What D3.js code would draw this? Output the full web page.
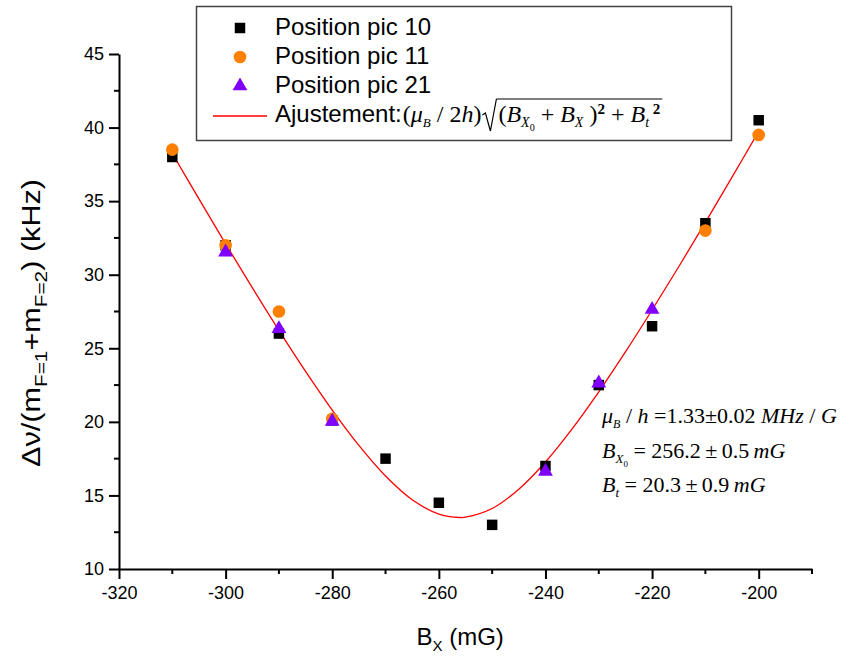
<!DOCTYPE html>
<html>
<head>
<meta charset="utf-8">
<script src="https://cdn.jsdelivr.net/npm/d3@7/dist/d3.min.js"></script>
<style>
  html, body { margin: 0; padding: 0; background: #fff; }
  svg { display: block; }
</style>
</head>
<body>
<svg id="chart" width="844" height="657"></svg>
<script>
// ---------- data ----------
const xTicks = [-320, -300, -280, -260, -240, -220, -200];
const yTicks = [10, 15, 20, 25, 30, 35, 40, 45];

const pic10X = [-310, -300, -290, -280, -270, -260, -250, -240, -230, -220, -210, -200];
const pic10Y = [38.0, 32.0, 26.0, 20.1, 17.5, 14.5, 13.0, 17.0, 22.5, 26.5, 33.5, 40.5];

const pic11X = [-310, -300, -290, -280, -210, -200];
const pic11Y = [38.5, 32.0, 27.5, 20.2, 33.0, 39.5];

const pic21X = [-300, -290, -280, -240, -230, -220];
const pic21Y = [31.6, 26.4, 20.1, 16.7, 22.7, 27.7];

// fitted curve, read every 5 mG
const fitX = [-310, -305, -300, -295, -290, -285, -280, -275, -270, -265, -260, -256,
              -255, -250, -245, -240, -235, -230, -225, -220, -215, -210, -205, -200];
const fitY = [38.24, 35.15, 32.10, 29.12, 26.22, 23.43, 20.80, 18.40, 16.32, 14.71, 13.73, 13.50,
              13.52, 14.11, 15.42, 17.27, 19.52, 22.04, 24.75, 27.60, 30.54, 33.56, 36.63, 39.74];

const legendLabels = ["Position pic 10", "Position pic 11", "Position pic 21"];
const colors = { pic10: "#000000", pic11: "#FF8000", pic21: "#8000FF", fit: "#FF0000" };

// ---------- layout ----------
const svg = d3.select("#chart");
const x = d3.scaleLinear().domain([-320, -190]).range([119, 812]);
const y = d3.scaleLinear().domain([10, 45]).range([569, 54]);
const sans = "'Liberation Sans', Arial, Helvetica, sans-serif";
const serif = "'Liberation Serif', 'Times New Roman', Times, serif";
const fmt = d => String(d);

// ---------- axes ----------
const xMinor = d3.range(-310, -189, 20);
const yMinor = d3.range(12.5, 45, 5);

const gx = svg.append("g").attr("transform", `translate(0,${y(10)})`);
gx.call(d3.axisBottom(x).tickValues(xTicks).tickSize(10).tickSizeOuter(0).tickFormat(fmt))
  .call(g => g.select(".domain").attr("stroke-width", 2))
  .call(g => g.selectAll(".tick line").attr("stroke-width", 2))
  .call(g => g.selectAll(".tick text").attr("font-family", sans).attr("font-size", 18).attr("fill", "#000").attr("dy", "0.95em"));
gx.selectAll(".minor").data(xMinor).enter().append("line")
  .attr("x1", d => x(d)).attr("x2", d => x(d)).attr("y1", 0).attr("y2", 5)
  .attr("stroke", "#000").attr("stroke-width", 2);

const gy = svg.append("g").attr("transform", `translate(${x(-320)},0)`);
gy.call(d3.axisLeft(y).tickValues(yTicks).tickSize(10).tickSizeOuter(0).tickFormat(fmt))
  .call(g => g.select(".domain").attr("stroke-width", 2))
  .call(g => g.selectAll(".tick line").attr("stroke-width", 2))
  .call(g => g.selectAll(".tick text").attr("font-family", sans).attr("font-size", 18).attr("fill", "#000").attr("x", -15));
gy.selectAll(".minor").data(yMinor).enter().append("line")
  .attr("y1", d => y(d)).attr("y2", d => y(d)).attr("x1", 0).attr("x2", -5)
  .attr("stroke", "#000").attr("stroke-width", 2);

// ---------- rich text helper ----------
function rich(sel, parts) {
  let shift = 0;
  parts.forEach(p => {
    const ts = sel.append("tspan").text(p.t);
    const target = p.dy || 0;
    if (target !== shift) { ts.attr("dy", target - shift); shift = target; }
    if (p.i) ts.attr("font-style", "italic");
    if (p.b) ts.attr("font-weight", "bold");
    if (p.s) ts.attr("font-size", p.s);
  });
  return sel;
}

// ---------- axis titles ----------
const xl = svg.append("text").attr("x", x(-256)).attr("y", 645)
  .attr("text-anchor", "middle").attr("font-family", sans).attr("font-size", 24).attr("fill", "#000");
rich(xl, [{ t: "B" }, { t: "X", s: 15, dy: 6 }, { t: " (mG)", dy: 0 }]);

const yl = svg.append("text").attr("transform", "translate(40,323) rotate(-90)")
  .attr("text-anchor", "middle").attr("font-family", sans).attr("font-size", 25).attr("fill", "#000")
  .attr("textLength", 288).attr("lengthAdjust", "spacingAndGlyphs");
rich(yl, [{ t: "Δν/(m" }, { t: "F=1", s: 17, dy: 7 }, { t: "+m", dy: 0 }, { t: "F=2", s: 17, dy: 7 }, { t: ") (kHz)", dy: 0 }]);

// ---------- fit curve ----------
const fitData = fitX.map((v, i) => [v, fitY[i]]);
svg.append("path").datum(fitData)
  .attr("d", d3.line().x(d => x(d[0])).y(d => y(d[1])).curve(d3.curveCatmullRom))
  .attr("fill", "none").attr("stroke", colors.fit).attr("stroke-width", 1.3);

// ---------- markers ----------
const sq = d3.symbol().type(d3.symbolSquare).size(110);
const ci = d3.symbol().type(d3.symbolCircle).size(125);
const tr = d3.symbol().type(d3.symbolTriangle).size(95);

svg.append("g").selectAll("path").data(pic10X.map((v, i) => [v, pic10Y[i]])).enter().append("path")
  .attr("d", sq).attr("transform", d => `translate(${x(d[0])},${y(d[1])})`).attr("fill", colors.pic10);
svg.append("g").selectAll("path").data(pic11X.map((v, i) => [v, pic11Y[i]])).enter().append("path")
  .attr("d", ci).attr("transform", d => `translate(${x(d[0])},${y(d[1])})`).attr("fill", colors.pic11);
svg.append("g").selectAll("path").data(pic21X.map((v, i) => [v, pic21Y[i]])).enter().append("path")
  .attr("d", tr).attr("transform", d => `translate(${x(d[0])},${y(d[1]) + 1})`).attr("fill", colors.pic21);

// ---------- legend ----------
const lg = svg.append("g");
lg.append("rect").attr("x", 196.5).attr("y", 6.5).attr("width", 535).attr("height", 134)
  .attr("fill", "#fff").attr("stroke", "#444").attr("stroke-width", 1.5);
const rowBase = [35, 64, 93, 122];
const symbols = [sq, ci, tr];
const symColors = [colors.pic10, colors.pic11, colors.pic21];
legendLabels.forEach((lab, i) => {
  lg.append("path").attr("d", symbols[i]).attr("fill", symColors[i])
    .attr("transform", `translate(240,${rowBase[i] - 7})`);
  lg.append("text").attr("x", 275).attr("y", rowBase[i]).attr("font-family", sans)
    .attr("font-size", 24).attr("fill", "#000").text(lab);
});
lg.append("line").attr("x1", 213).attr("x2", 267).attr("y1", 116).attr("y2", 116)
  .attr("stroke", colors.fit).attr("stroke-width", 1.3);
const ta = lg.append("text").attr("x", 275).attr("y", 122).attr("font-family", sans)
  .attr("font-size", 24).attr("fill", "#000").text("Ajustement:");
const xa = 275 + ta.node().getComputedTextLength() + 1;
const tb = lg.append("text").attr("x", xa).attr("y", 122).attr("font-family", serif)
  .attr("font-size", 24).attr("fill", "#000");
rich(tb, [{ t: "(" }, { t: "μ", i: true }, { t: "B", i: true, s: 13, dy: 5 }, { t: " / 2", dy: 0 }, { t: "h", i: true }, { t: ")" }]);
const xb = xa + tb.node().getComputedTextLength() + 1;
const rb = 122;
lg.append("path")
  .attr("d", `M${xb},${rb - 7} L${xb + 3},${rb - 9} L${xb + 8},${rb + 9} L${xb + 14},${rb - 23}`)
  .attr("fill", "none").attr("stroke", "#000").attr("stroke-width", 1.2);
const tc = lg.append("text").attr("x", xb + 16).attr("y", 122).attr("font-family", serif)
  .attr("font-size", 24).attr("fill", "#000");
rich(tc, [{ t: "(" }, { t: "B", i: true }, { t: "X", i: true, s: 14, dy: 5 }, { t: "0", s: 10, dy: 9 },
          { t: " + ", dy: 0 }, { t: "B", i: true }, { t: "X", i: true, s: 14, dy: 5 }, { t: " )", dy: 0 },
          { t: "2", b: true, s: 15, dy: -8 }, { t: " + ", dy: 0 }, { t: "B", i: true }, { t: "t", i: true, s: 14, dy: 5 },
          { t: " 2", b: true, s: 15, dy: -8 }]);
const xc = xb + 16 + tc.node().getComputedTextLength();
lg.append("line").attr("x1", xb + 14).attr("x2", xc + 2).attr("y1", rb - 23).attr("y2", rb - 23)
  .attr("stroke", "#000").attr("stroke-width", 1.2);

// ---------- fit parameters ----------
const ann = svg.append("g").attr("font-family", serif).attr("font-size", 22).attr("fill", "#000");
const a1 = ann.append("text").attr("x", 602).attr("y", 423);
rich(a1, [{ t: "μ", i: true }, { t: "B", i: true, s: 12, dy: 5 }, { t: " / ", dy: 0 }, { t: "h", i: true },
          { t: " =1.33±0.02 " }, { t: "MHz", i: true }, { t: " / " }, { t: "G", i: true }]);
const a2 = ann.append("text").attr("x", 602).attr("y", 458);
rich(a2, [{ t: "B", i: true }, { t: "X", i: true, s: 13, dy: 5 }, { t: "0", s: 9, dy: 9 },
          { t: " = 256.2\u2009±\u20090.5\u2009", dy: 0 }, { t: "mG", i: true }]);
const a3 = ann.append("text").attr("x", 602).attr("y", 492);
rich(a3, [{ t: "B", i: true }, { t: "t", i: true, s: 13, dy: 5 }, { t: " = 20.3\u2009±\u20090.9\u2009", dy: 0 }, { t: "mG", i: true }]);
</script>
</body>
</html>
